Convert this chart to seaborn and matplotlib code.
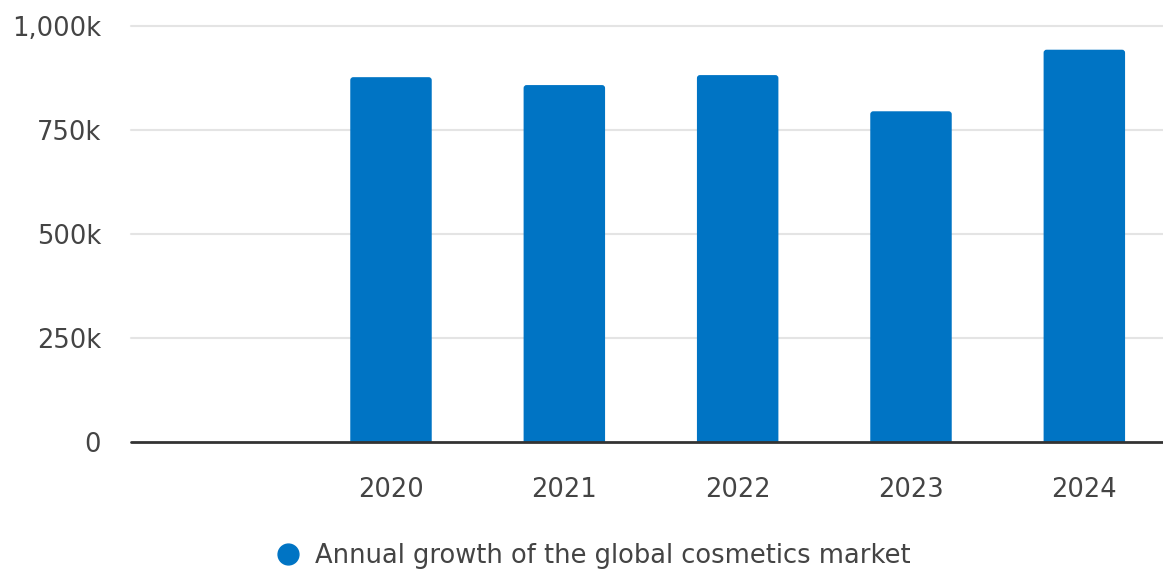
import matplotlib
matplotlib.use("Agg")
import matplotlib.pyplot as plt
from matplotlib.ticker import FuncFormatter
from matplotlib.lines import Line2D
from matplotlib.patches import FancyBboxPatch
import seaborn as sns
import pandas as pd

# Annual growth of the global cosmetics market (thousands)
years = ["2020", "2021", "2022", "2023", "2024"]
growth_k = [877, 858, 882, 795, 943]
# leading empty slot on the category axis
slot_order = [""] + years
y_ticks = [0, 250, 500, 750, 1000]

BAR_COLOR = "#0074C4"
TEXT_COLOR = "#444444"
GRID_COLOR = "#e4e4e4"

sns.set_theme(style="white")
plt.rcParams["font.family"] = ["DejaVu Sans"]

df = pd.DataFrame({"year": years, "growth": growth_k})

fig = plt.figure(figsize=(11.63, 5.70), dpi=100)
W, H = 1163, 570
x0, x1 = 131, 1171
y_top, y_zero = 26, 442
ax = fig.add_axes([x0 / W, 1 - y_zero / H, (x1 - x0) / W, (y_zero - y_top) / H])

sns.barplot(data=df, x="year", y="growth", order=slot_order, color=BAR_COLOR,
            saturation=1, width=0.47, ax=ax, zorder=3)

ax.set_xlim(-0.5, len(slot_order) - 0.5)
ax.set_ylim(0, 1000)

# soften the bar tops: swap each rectangle for a rounded box of the same size
x_per_px = (len(slot_order)) / (x1 - x0)
y_per_px = 1000 / (y_zero - y_top)
for rect in list(ax.patches):
    bx, by = rect.get_x(), rect.get_y()
    bw, bh = rect.get_width(), rect.get_height()
    if bh <= 0:
        continue
    rounded = FancyBboxPatch((bx, by - 20), bw, bh + 20,
                             boxstyle=f"round,pad=0,rounding_size={3 * x_per_px}",
                             mutation_aspect=y_per_px / x_per_px,
                             facecolor=BAR_COLOR, edgecolor="none", zorder=3)
    rect.remove()
    ax.add_patch(rounded)

ax.set_yticks(y_ticks)
ax.yaxis.set_major_formatter(FuncFormatter(lambda v, _: f"{int(v):,}k" if v else "0"))

for v in y_ticks[1:]:
    ax.axhline(v, color=GRID_COLOR, lw=1.5, zorder=1, clip_on=False)
ax.axhline(0, color="#333333", lw=2.0, zorder=4, clip_on=False)

for s in ax.spines.values():
    s.set_visible(False)

ax.set_xlabel("")
ax.set_ylabel("")
ax.tick_params(axis="x", length=0, pad=25, labelsize=18.5, labelcolor=TEXT_COLOR)
ax.tick_params(axis="y", length=0, pad=21.5, labelsize=18.5, labelcolor=TEXT_COLOR)

handle = Line2D([], [], marker="o", linestyle="none", markersize=15,
                markerfacecolor=BAR_COLOR, markeredgecolor=BAR_COLOR)
fig.legend([handle], ["Annual growth of the global cosmetics market"],
           loc="center", bbox_to_anchor=(593 / W, 1 - 556 / H), frameon=False,
           fontsize=18.5, labelcolor=TEXT_COLOR, handletextpad=0.55,
           handlelength=1.0)

fig.savefig("out.png", dpi=100, facecolor="white")
